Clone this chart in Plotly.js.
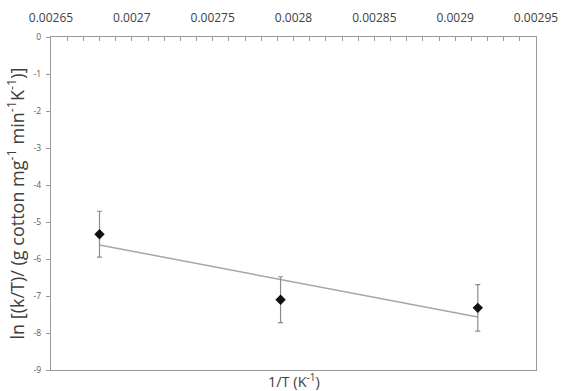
<!DOCTYPE html>
<html>
<head>
<meta charset="utf-8">
<script src="https://cdn.plot.ly/plotly-3.0.1.min.js"></script>
<style>html,body{margin:0;padding:0;background:#fff;}#chart{width:561px;height:391px;}</style>
</head>
<body>
<div id="chart"></div>
<script>
// Data
const invT = [0.002680, 0.002792, 0.002914];
const lnKT = [-5.33, -7.10, -7.32];
const errLn = [0.62, 0.62, 0.63];
const trendX = [0.002680, 0.002914];
const trendY = [-5.62, -7.57];
const xTickVals = [0.00265, 0.0027, 0.00275, 0.0028, 0.00285, 0.0029, 0.00295];
const xTickText = ["0.00265", "0.0027", "0.00275", "0.0028", "0.00285", "0.0029", "0.00295"];
const yTickVals = [0, -1, -2, -3, -4, -5, -6, -7, -8, -9];
const yTickText = ["0", "-1", "-2", "-3", "-4", "-5", "-6", "-7", "-8", "-9"];

const FONT = "Open Sans, Liberation Sans, sans-serif";
const traces = [
  {
    x: trendX, y: trendY, type: 'scatter', mode: 'lines',
    line: {color: '#a6a6a6', width: 1.5}, hoverinfo: 'skip'
  },
  {
    x: invT, y: lnKT, type: 'scatter', mode: 'markers',
    marker: {symbol: 'diamond', size: 8, color: '#111111'},
    error_y: {type: 'data', array: errLn, visible: true, color: '#8c8c8c', thickness: 1.2, width: 2.5}
  }
];
const layout = {
  width: 561, height: 391,
  margin: {l: 51, r: 25, t: 37, b: 21, pad: 0},
  paper_bgcolor: '#ffffff', plot_bgcolor: '#ffffff',
  showlegend: false,
  font: {family: FONT, color: '#404040'},
  xaxis: {
    side: 'top', range: [0.00265, 0.00295],
    tickmode: 'array', tickvals: xTickVals, ticktext: xTickText,
    ticks: 'inside', ticklen: 4, tickcolor: '#9a9a9a', tickwidth: 1,
    minor: {dtick: 0.00001, ticks: 'inside', ticklen: 4, tickcolor: '#9a9a9a', tickwidth: 1, showgrid: false},
    showline: true, linecolor: '#9a9a9a', linewidth: 1.2, mirror: true,
    showgrid: false, zeroline: false,
    ticklabelstandoff: 9,
    tickfont: {size: 12, color: '#404040', family: FONT},
    fixedrange: true
  },
  yaxis: {
    range: [-9, 0],
    tickmode: 'array', tickvals: yTickVals, ticktext: yTickText,
    ticks: 'outside', ticklen: 4, tickcolor: '#9a9a9a', tickwidth: 1,
    showline: true, linecolor: '#9a9a9a', linewidth: 1.2, mirror: true,
    showgrid: false, zeroline: false,
    ticklabelstandoff: 3,
    tickfont: {size: 8.5, color: '#595959', family: FONT},
    title: {text: 'ln [(k/T)/ (g cotton mg<sup>-1</sup> min<sup>-1</sup>K<sup>-1</sup>)]', font: {size: 18, color: '#404040', family: FONT}, standoff: 4},
    automargin: false,
    fixedrange: true
  },
  annotations: [{
    xref: 'paper', yref: 'paper', x: 0.5, y: 0, yshift: -10, xanchor: 'center', yanchor: 'middle',
    text: '1/T (K<sup>-1</sup>)', showarrow: false,
    font: {size: 14.5, color: '#404040', family: FONT}
  }]
};
Plotly.newPlot('chart', traces, layout, {displayModeBar: false, staticPlot: true});
</script>
</body>
</html>
